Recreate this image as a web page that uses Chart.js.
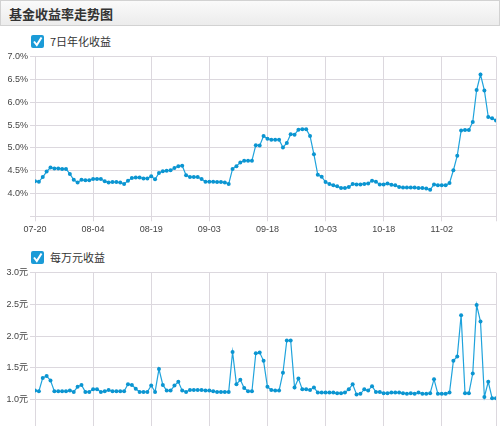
<!DOCTYPE html>
<html>
<head>
<meta charset="utf-8">
<script src="https://cdn.jsdelivr.net/npm/chart.js@4/dist/chart.umd.min.js"></script>
<style>
  html, body { margin: 0; padding: 0; background: #fff; overflow: hidden; }
  body { width: 500px; height: 426px; position: relative; font-family: "Liberation Sans", Arial, "Noto Sans CJK SC", sans-serif; }
  .titlebar {
    position: absolute; left: 0; top: 0; width: 498px; height: 24px;
    border: 1px solid #d2d2d2;
    background: linear-gradient(#fafafa, #ececec);
  }
  .titlebar span {
    position: absolute; left: 8px; top: 4px;
    font: bold 13px "Noto Sans CJK SC", sans-serif; color: #333; line-height: 17px;
  }
  .legend { position: absolute; left: 31px; height: 14px; }
  .legend svg { position: absolute; left: 0; top: 0; }
  .legend span {
    position: absolute; left: 19px; top: -1px; white-space: nowrap;
    font: 11px "Noto Sans CJK SC", sans-serif; color: #333; line-height: 15px;
  }
  canvas { position: absolute; left: 0; }
</style>
</head>
<body>
<div class="titlebar"><span>基金收益率走势图</span></div>

<div class="legend" style="top:35px">
  <svg width="14" height="14"><rect x="0" y="0" width="13" height="13" rx="2" fill="#1b9bd7"/><polyline points="3,6.5 5.8,10 10.5,2.5" fill="none" stroke="#fff" stroke-width="2"/></svg>
  <span>7日年化收益</span>
</div>
<canvas id="topChart" width="500" height="194" style="top:46px"></canvas>

<div class="legend" style="top:251px">
  <svg width="14" height="14"><rect x="0" y="0" width="13" height="13" rx="2" fill="#1b9bd7"/><polyline points="3,6.5 5.8,10 10.5,2.5" fill="none" stroke="#fff" stroke-width="2"/></svg>
  <span>每万元收益</span>
</div>
<canvas id="bottomChart" width="500" height="200" style="top:262px"></canvas>

<script>
// x tick labels, one every 15 days starting at 07-20
const tickLabels = ['07-20', '08-04', '08-19', '09-03', '09-18', '10-03', '10-18', '11-02'];

// 7日年化收益 (%), one value per day
const yield7d = [
  4.27, 4.26, 4.36, 4.48, 4.57, 4.55, 4.55, 4.54, 4.54, 4.43,
  4.30, 4.24, 4.30, 4.29, 4.29, 4.32, 4.32, 4.32, 4.27, 4.24,
  4.25, 4.25, 4.24, 4.21, 4.28, 4.34, 4.35, 4.35, 4.33, 4.33,
  4.38, 4.31, 4.45, 4.49, 4.50, 4.51, 4.56, 4.60, 4.61, 4.40,
  4.36, 4.36, 4.36, 4.32, 4.26, 4.26, 4.26, 4.25, 4.25, 4.24,
  4.21, 4.54, 4.60, 4.68, 4.72, 4.72, 4.72, 5.06, 5.05, 5.26,
  5.20, 5.18, 5.18, 5.18, 5.01, 5.11, 5.30, 5.29, 5.40, 5.41,
  5.41, 5.26, 4.86, 4.41, 4.37, 4.25, 4.21, 4.18, 4.16, 4.12,
  4.12, 4.14, 4.21, 4.20, 4.20, 4.21, 4.22, 4.28, 4.26, 4.20,
  4.20, 4.22, 4.19, 4.18, 4.14, 4.13, 4.13, 4.13, 4.13, 4.12,
  4.12, 4.11, 4.08, 4.20, 4.18, 4.18, 4.18, 4.23, 4.51, 4.83,
  5.38, 5.39, 5.39, 5.57, 6.27, 6.61, 6.26, 5.68, 5.65, 5.60
];

// 每万元收益 (元), one value per day
const per10k = [
  1.14, 1.13, 1.34, 1.37, 1.30, 1.13, 1.13, 1.13, 1.13, 1.14,
  1.12, 1.20, 1.23, 1.12, 1.12, 1.16, 1.16, 1.12, 1.13, 1.15,
  1.13, 1.13, 1.13, 1.13, 1.24, 1.23, 1.17, 1.12, 1.12, 1.12,
  1.22, 1.12, 1.48, 1.23, 1.14, 1.14, 1.22, 1.28, 1.14, 1.12,
  1.15, 1.15, 1.15, 1.15, 1.14, 1.14, 1.13, 1.12, 1.12, 1.12,
  1.12, 1.75, 1.24, 1.31, 1.18, 1.13, 1.13, 1.73, 1.74, 1.61,
  1.20, 1.15, 1.14, 1.14, 1.42, 1.93, 1.93, 1.19, 1.33, 1.16,
  1.16, 1.15, 1.19, 1.11, 1.11, 1.11, 1.11, 1.11, 1.10, 1.10,
  1.11, 1.16, 1.24, 1.08, 1.09, 1.16, 1.14, 1.21, 1.12, 1.12,
  1.10, 1.10, 1.11, 1.11, 1.11, 1.10, 1.09, 1.10, 1.09, 1.11,
  1.09, 1.09, 1.10, 1.32, 1.09, 1.09, 1.09, 1.11, 1.61, 1.68,
  2.33, 1.10, 1.10, 1.41, 2.49, 2.23, 1.04, 1.28, 1.02, 1.02
];

Chart.defaults.font.family = '"Liberation Sans", Arial, "Noto Sans CJK SC", sans-serif';
Chart.defaults.font.size = 9;
Chart.defaults.color = '#444';

const gridColor = '#dcd8de';
const lineColor = '#1fa3dc';
const pointColor = '#0b95d1';

function makeChart(id, values, yMin, yMax, unit, padTop, xHeight) {
  const lastX = values.length - 1;
  return new Chart(document.getElementById(id), {
    type: 'line',
    data: {
      datasets: [{
        data: values.map((v, i) => ({ x: i, y: v })),
        borderColor: lineColor,
        borderWidth: 1.2,
        pointRadius: 2,
        pointBorderWidth: 0,
        pointBackgroundColor: pointColor,
        tension: 0
      }]
    },
    options: {
      responsive: false,
      animation: false,
      layout: { padding: { top: padTop, right: 2, left: 0, bottom: 0 } },
      plugins: { legend: { display: false }, tooltip: { enabled: false } },
      scales: {
        x: {
          type: 'linear',
          min: 0,
          max: lastX,
          afterBuildTicks: (scale) => {
            const t = tickLabels.map((_, k) => ({ value: k * 15 }));
            t.push({ value: lastX });
            scale.ticks = t;
          },
          afterFit: (scale) => { scale.height = xHeight; },
          grid: { color: gridColor, tickLength: 5 },
          border: { color: gridColor },
          ticks: {
            padding: 3,
            maxRotation: 0,
            autoSkip: false,
            callback: (v) => (v % 15 === 0 ? tickLabels[v / 15] : '')
          }
        },
        y: {
          min: yMin,
          max: yMax,
          afterFit: (scale) => { scale.width = 35; },
          grid: { color: gridColor, tickLength: 5 },
          border: { color: gridColor },
          ticks: {
            stepSize: 0.5,
            padding: 2,
            callback: (v) => (v === yMin ? '' : v.toFixed(1) + unit)
          }
        }
      }
    }
  });
}

makeChart('topChart', yield7d, 3.5, 7.0, '%', 10.7, 23.7);
makeChart('bottomChart', per10k, 0.5, 3.0, '元', 10.7, 30.8);
</script>
</body>
</html>
